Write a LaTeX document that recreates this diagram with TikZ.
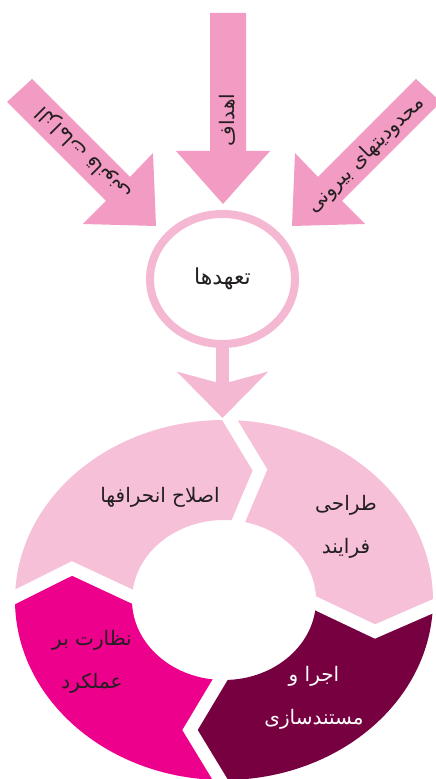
\documentclass[tikz,border=0pt]{standalone}
\usepackage{fontspec}
\newfontfamily\arabicfont[Script=Arabic]{DejaVu Sans}
\TeXXeTstate=1
\usepackage{xcolor}
\usetikzlibrary{calc, arrows.meta, shapes.geometric}

\definecolor{arrowpink}{RGB}{242,155,195}
\definecolor{ringpink}{RGB}{245,184,210}
\definecolor{palepink}{RGB}{246,192,216}
\definecolor{magentared}{RGB}{236,0,140}
\definecolor{darkplum}{RGB}{118,0,64}
\definecolor{inkgray}{RGB}{35,31,32}

\begin{document}
\begin{tikzpicture}[x=1pt, y=1pt,
  inarrow/.style={fill=arrowpink},
  seglabel/.style={font=\arabicfont\fontsize{20}{43}\selectfont, text=inkgray, align=center},
  arrowlabel/.style={font=\arabicfont\fontsize{20}{24}\selectfont, text=inkgray},
  gap/.style={draw=white, line width=13pt, line join=miter, shorten <=-6pt, shorten >=-6pt},
  link/.style={draw=ringpink, line width=13pt, -{Stealth[length=46pt, width=90pt, inset=12pt]}}]

  \useasboundingbox (0,0) rectangle (436,779);

  % ring of the four steps
  \coordinate (C) at (224,179);
  \coordinate (topout) at ($(C)+(88.4:209pt and 180pt)$);
  \coordinate (topin) at ($(C)+(81:92pt and 80pt)$);
  \coordinate (topmid) at ($(C)+(36,130)$);
  \coordinate (rightout) at ($(C)+(-2:209pt and 180pt)$);
  \coordinate (rightin) at ($(C)+(-2.5:92pt and 80pt)$);
  \coordinate (rightmid) at ($(C)+(151,-31.5)$);
  \coordinate (botout) at ($(C)+(-91:209pt and 180pt)$);
  \coordinate (botin) at ($(C)+(-92.5:92pt and 80pt)$);
  \coordinate (botmid) at ($(C)+(-34,-130)$);
  \coordinate (leftout) at ($(C)+(179:209pt and 180pt)$);
  \coordinate (leftin) at ($(C)+(177.5:92pt and 80pt)$);
  \coordinate (leftmid) at ($(C)+(-152,31.5)$);

  \fill[palepink] (leftout) arc[start angle=179, end angle=88.4, x radius=209pt, y radius=180pt]
    -- (topmid) -- (topin) arc[start angle=81, end angle=177.5, x radius=92pt, y radius=80pt]
    -- (leftmid) -- cycle;
  \fill[palepink] (topout) arc[start angle=88.4, end angle=-2, x radius=209pt, y radius=180pt]
    -- (rightmid) -- (rightin) arc[start angle=-2.5, end angle=81, x radius=92pt, y radius=80pt]
    -- (topmid) -- cycle;
  \fill[darkplum] (rightout) arc[start angle=-2, end angle=-91, x radius=209pt, y radius=180pt]
    -- (botmid) -- (botin) arc[start angle=-92.5, end angle=-2.5, x radius=92pt, y radius=80pt]
    -- (rightmid) -- cycle;
  \fill[magentared] (botout) arc[start angle=-91, end angle=-181, x radius=209pt, y radius=180pt]
    -- (leftmid) -- (leftin) arc[start angle=-182.5, end angle=-92.5, x radius=92pt, y radius=80pt]
    -- (botmid) -- cycle;

  \draw[gap] (topout) -- (topmid) -- (topin);
  \draw[gap] (rightout) -- (rightmid) -- (rightin);
  \draw[gap] (botout) -- (botmid) -- (botin);
  \draw[gap] (leftout) -- (leftmid) -- (leftin);

  \node[seglabel] (fix) at (160,282) {\beginR اصلاح انحرافها\endR};
  \node[seglabel] (design) at (346,252) {\beginR طراحی\endR\\\beginR فرایند\endR};
  \node[seglabel, text=white] (run) at (314,81) {\beginR اجرا و\endR\\\beginR مستندسازی\endR};
  \node[seglabel] (watch) at (92,117) {\beginR نظارت بر\endR\\\beginR عملکرد\endR};

  % three inputs
  \fill[inarrow] (210,766) -- (210,628) -- (176,628) -- (223,575) -- (270,628) -- (246,628) -- (246,766) -- cycle;
  \fill[inarrow] (7,677) -- (106,578) -- (83,555) -- (156,553) -- (153,626) -- (130,602) -- (32,700) -- cycle;
  \fill[inarrow] (441,677) -- (342,578) -- (365,555) -- (292,553) -- (295,626) -- (318,602) -- (416,700) -- cycle;

  \node[arrowlabel, rotate=90] (goals) at (227,659) {\beginR اهداف\endR};
  \node[arrowlabel, rotate=45] (limits) at (366,624) {\beginR محدودیتهای بیرونی\endR};
  \node[arrowlabel, rotate=135] (laws) at (84,626) {\beginR الزامات قانونی\endR};

  % commitments
  \node[ellipse, draw=ringpink, line width=8pt, minimum width=145pt, minimum height=130pt,
    inner sep=0pt, font=\arabicfont\fontsize{22}{26}\selectfont, text=inkgray] (commit) at (222.5,500) {\beginR تعهدها\endR};
  \coordinate (cycletop) at (222.5,361);
  \draw[link] (commit.south) -- (cycletop);
\end{tikzpicture}
\end{document}
